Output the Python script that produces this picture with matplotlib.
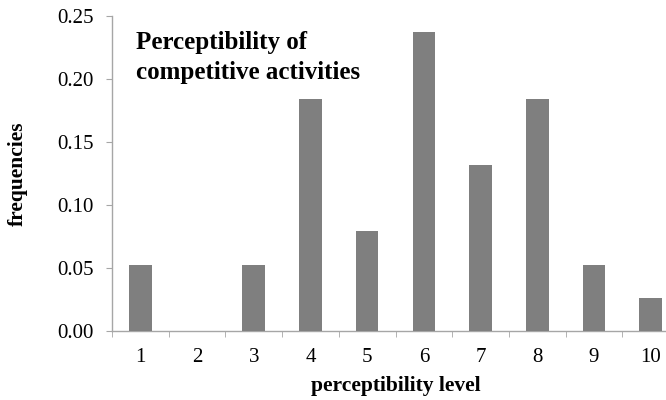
import matplotlib
matplotlib.use("Agg")
import matplotlib.pyplot as plt
import numpy as np

levels = [1, 2, 3, 4, 5, 6, 7, 8, 9, 10]
frequencies = [2/38, 0.0, 2/38, 7/38, 3/38, 9/38, 5/38, 7/38, 2/38, 1/38]
yticks = [0.00, 0.05, 0.10, 0.15, 0.20, 0.25]

plt.rcParams['font.family'] = ['Liberation Serif', 'DejaVu Serif']

W, H = 666, 400
fig = plt.figure(figsize=(W / 100, H / 100), dpi=100)
left, right, bottom, top = 112, 679, 331, 15.7
ax = fig.add_axes([left / W, 1 - bottom / H, (right - left) / W, (bottom - top) / H])

ax.bar(levels, frequencies, width=0.4, color='#7f7f7f', zorder=3)

ax.set_xlim(0.5, 10.5)
ax.set_ylim(0, 0.25)
ax.set_yticks(yticks)
ax.set_yticklabels([f"{v:.2f}" for v in yticks])
ax.set_xticks(levels)
ax.set_xticklabels([str(v) for v in levels])
ax.set_xticks(np.arange(0.5, 11, 1), minor=True)
ax.tick_params(axis='x', which='major', length=0, labelsize=15, pad=12)
ax.tick_params(axis='x', which='minor', length=4, color='#a6a6a6', direction='out')
ax.tick_params(axis='y', which='major', length=4, color='#a6a6a6', labelsize=15, pad=9)

for s in ['top', 'right']:
    ax.spines[s].set_visible(False)
for s in ['left', 'bottom']:
    ax.spines[s].set_color('#a6a6a6')
    ax.spines[s].set_linewidth(1)

ax.set_ylabel('frequencies', fontsize=15.5, fontweight='bold')
ax.yaxis.set_label_coords((18 - left) / (right - left), 0.5)
ax.set_xlabel('perceptibility level', fontsize=15.5, fontweight='bold')
ax.xaxis.set_label_coords(0.5, (bottom - 386) / (bottom - top))
ax.xaxis.label.set_va('center')
ax.yaxis.label.set_va('center')

ax.text((136 - left) / (right - left), (bottom - 31) / (bottom - top),
        'Perceptibility of\ncompetitive activities', transform=ax.transAxes,
        fontsize=18, fontweight='bold', va='top', ha='left', linespacing=1.4)

fig.savefig('out.png', dpi=100)
